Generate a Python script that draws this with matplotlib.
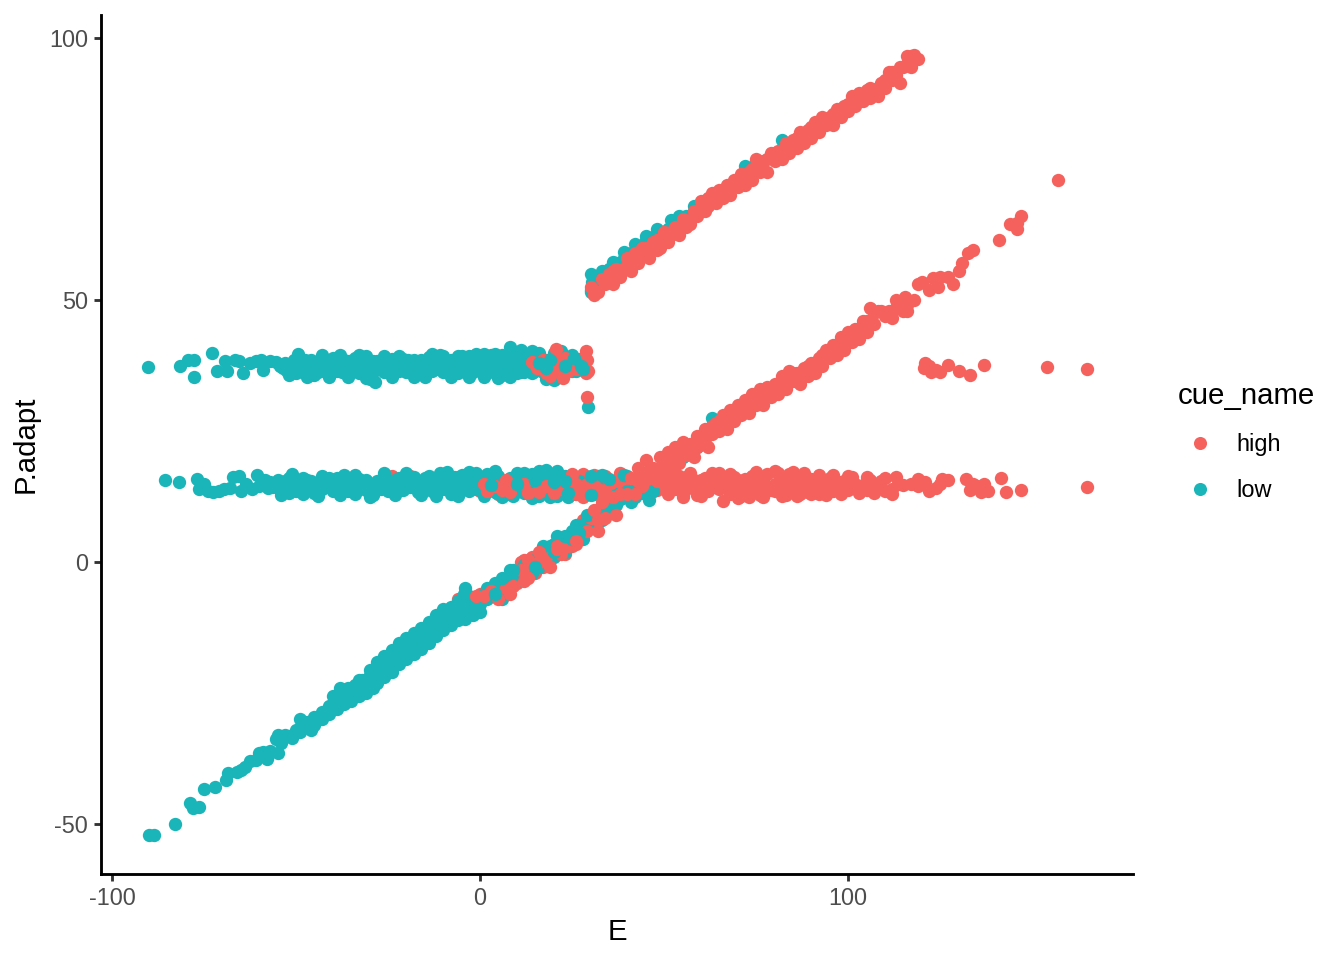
#!/bin/python3
import matplotlib
matplotlib.use("Agg")
import matplotlib.pyplot as plt
from matplotlib.lines import Line2D
import numpy as np

plt.rcParams['font.family'] = ['Liberation Sans', 'DejaVu Sans']
plt.rcParams['axes.unicode_minus'] = False

HIGH = "#F5615C"
LOW = "#19B5B8"

# (E, P.adapt), one list per band

# flat band around 37
high_top_back = [(6,37.5),(9,38),(12,37),(14,38.5),(17,36.5),(19,38),(-21,38),(-17,37.5),(3,36.5),(11,36.2)]
low_top = [(-90.2,37.2),(-81.5,37.4),(-79.3,38.5),(-77.7,38.5),(-77.7,35.3),(-72.8,40),(-71.5,36.4),(-68.8,36.5),
    (-69.3,38.4),(-66.6,38.5),(-65.5,38.3),(-64.4,36),(-62.5,38),(-61,38.4),(-59.5,38.5),(-59,36.7),(-57,38.4),
    (-55.5,38.2),(-54.5,37.5),(-53.5,37),(-52.5,36.5),(-51.5,37.8),(-50.5,38.5),(-50,36),(-49.5,39.7),(-48.5,37),
    (-47.5,38.6),(-47,36.2),(-46,37.4),(-45,35.7),(-44,38),(-43,36.8),(-42.5,38.3),(-41.5,36),(-40.5,37.5),(-40,39),
    (-39,36.5),(-38.5,38.8),(-37.5,37.4),(-36.5,36.2),(-36,38.2),(-35,37),(-34,39),(-33,36),(-32.5,38),(-31.5,36.8),
    (-31,39.4),(-30,35),(-29,38.4),(-28.5,34.3),(-28,37),(-26.5,38),(-26,36.3),(-25,37.3),(-24,38.8),(-23,36.5),
    (-22,37.5),(-21,38.7),(-20,36.2),(-19,37.5),(-18,38.5),(-17,36.5),(-16,38.6),(-15,37.2),(-14,39.2),(-13,36.4),
    (-12,38),(-11,39.5),(-10,37),(-9,36.3),(-8,38.5),(-7,37.3),(-6,36),(-5,38.2),(-4,37),(-3,39.4),(-2,36.3),(-1,38),
    (0,39.4),(1,37),(2,36),(3,38.7),(4,39.7),(5,37.3),(6,35.8),(7,38.5),(8,41),(9,37.5),(10,36),(11,39),(12,39.7),
    (13,37.4),(14,36),(15,38.8),(16,37.2),(17,36.3),(18,38.5),(20,40),(21,37.5),(22,35.3),(23,38.5),(24,37),(25,39.5),
    (26,36.5),(27,38.5),(28,37.5),(28.5,36.6),(29.3,29.6)]
low_top_more = [(-53,38),(-51,36.8),(-49,37.8),(-48,36.2),(-46,38.6),(-45,37),(-44,36.2),(-43,37.8),(-41.5,38.2),(-40,36.5),
    (-39,37.6),(-37.5,36.3),(-37,38.5),(-35.5,38.4),(-35,36.2),(-33.5,37.5),(-32.5,36.4),(-31,37.6),(-30,36.8),(-29,36.2),
    (-28,38.4),(-27,37.2),(-25.5,38.4),(-25,36.5),(-23.5,37.7),(-22,36.4),(-21,37.2),(-19.5,38.6),(-19,36.5),(-17.5,37.5),
    (-16.5,36.6),(-15.5,38),(-14.5,36.5),(-13,38),(-12,36.8),(-10.5,38.5),(-10,36.2),(-8.5,37.2),(-7.5,36.2),(-6,38.6),
    (-5,36.6),(-3.5,37.6),(-2.5,38.3),(-1,36.6),(0,37.3),(1,38.6),(2,37.6),(3,36.5),(4,38),(5,36.2),(6,37.7),(7,36.6),(8,38.8),
    (9,36.3),(10,38),(11,37),(12,36.3),(13,38.8),(14,37.5),(15,36.5),(16,38.5),(17,37.6),(18,36.5),(19,38),(21,36.5),(22,38),
    (24,38.5),(25,36.5),(26,38),(-6,39.3),(1,39.8),(6,39.5),(10,39.6)]
low_top_edge = [(-52,35.8),(-47,35.3),(-43,39.5),(-41,35.4),(-38,39.6),(-36,35.3),(-33,39.5),(-31,35.2),(-26,39.3),(-24,35.4),
    (-22,39.3),(-18,35.4),(-15,35.3),(-13,39.7),(-10,39.3),(-8,35.4),(-5,39.4),(-3,35.4),(-1,39.8),(1,35.3),(3,39.6),(5,35.1),(8,35.3),
    (11,40.5),(14,40.3),(16,40),(18,35),(20,34.8),(22,40.2)]
high_top_front = [(14,38.2),(15.5,37),(17,38.5),(18,36),(19,35.5),(20,37.7),(20.5,40.7),(22,36.5),(22.5,35.2),(23,39),
    (24,38),(25,37.5),(26,36.8),(27,38.8),(28,37),(28.8,40.3),(29,38.5),(29.3,36.4),(29,31.5),(28.8,36),(21,38.7),(24,36.4),(27,37)]
low_top_front = [(16,38),(19,38.5),(23,37.5),(25.5,39),(27.5,37.5),(18,37),(28,36.8)]

# flat band around 15
high_mid_back = [(-24,16.5),(-19,16.5),(-11,16),(-6,16.2),(-2,15),(0,13.5),(3,16),(5,13),(8,14.5),(11,16),(14,14),
    (16,15),(18,15.7),(20,14),(22,16.5),(24,13.5),(26,15.5),(28,16.8),(30,15),(32,16.5),(36,15)]
low_mid = [(-85.5,15.7),(-81.7,15.2),(-77,15.9),(-76.5,14),(-75,14.9),(-74,13.6),(-72.5,13.4),(-71,13.6),(-69.5,14),
    (-68,14.2),(-67,16.2),(-65.5,16.4),(-65,13.6),(-63.5,15),(-62,14),(-60.5,16.7),(-60,14.5),(-58.5,15.6),(-57.5,14.2),
    (-56.5,14.3),(-55.5,14.3),(-54,12.8),(-53,14.5),(-52,16),(-51,16.9),(-50,13.5),(-49,15),(-48,16),(-47,14),(-46,15.5),
    (-45,13.2),(-44,15),(-43,16.5),(-42,14.3),(-41,15.3),(-40,13.5),(-39,16),(-38,14.5),(-37,16.7),(-36,13.6),(-35,15.2),
    (-34,16.6),(-33,14),(-32,15.3),(-31,13.8),(-30,15),(-29,12.8),(-28,15.5),(-27,14),(-26,16),(-25,13.5),(-24,15),
    (-23,14),(-22,16),(-21,13.7),(-20,15.5),(-19,14.4),(-18,16.3),(-17,13.4),(-16,15),(-15,14),(-14,16.5),(-13,13.6),
    (-12,15.3),(-11,17),(-10,14),(-9,15.6),(-8,13),(-7,16.2),(-6,14.6),(-5,16.7),(-4,14),(-3,13.5),(-2,15.8),(-1,17),
    (0,15.5),(1,14),(2,16.8),(3,15),(4,13.4),(5,16.5),(6,14.7),(7,13),(8,16),(9,15),(10,17),(11,14),(12,13.2),(13,15.6),
    (14,16.8),(15,14.5),(16,12.7),(17,15.5),(18,17.5),(19,14),(20,16),(21,12.6),(22,15),(23,16.5),(24,14.2),(25,13),
    (27,15.5),(28,14),(31,13),(33,14.8),(35,13),(38,14.3),(40,16.5),(42,12.4),(44,16),(46,11.8),(48,15),(50,16.5),(41,11.5)]
low_mid_more = [(-57,15.3),(-55,15.6),(-53,15.4),(-51,14.7),(-49,13.7),(-47,15.6),(-45,14.7),(-43,14),(-41,16),(-39,14.4),(-37,15),
    (-35,14),(-33,15.8),(-31,15.6),(-29,14.5),(-27,15.6),(-25,15.2),(-23,15.6),(-21,15),(-19,16),(-17,15),(-15,16),(-13,15.2),
    (-11,14.5),(-9,14),(-7,14.6),(-5,15),(-3,15.4),(-1,14),(1,15.8),(3,13.8),(5,15),(7,15.5),(9,13.5),(11,15.6),(13,14),(15,16),
    (17,14),(19,15.5),(21,14.6),(23,14),(24,15.7),(26,13.6),(29,15)]
low_mid_edge = [(-52,13.2),(-48,13),(-44,12.6),(-38,12.8),(-34,13),(-30,12.4),(-26,17),(-23,12.8),(-20,17),(-16,12.8),(-12,12.6),(-9,17.2),
    (-6,12.7),(-3,17.2),(1,12.7),(4,17.3),(6,12.5),(9,12.7),(12,17),(14,12.2),(16,17.3),(19,12.5),(21,17.3),(24,12.4)]
high_mid_patch = [(1,15),(2,13.5),(6,13.7),(7,15.7),(13,13.2),(16,13.4),(18,14.5),(26,15),(25,16.8),(28,12.5)]
low_mid_front = [(3,14.8),(10,15),(15,15.6),(20,15.2),(23,15.5),(24,13.2),(30,16.5),(33,16.6),(37,12.8),(39,16.7),(42,15.3),(44,13.2),(30,12.8),
    (35,15.8),(38,12),(40,13.5),(46,16),(47,13.5)]
high_mid_front = [(4,14.5),(8,13.3),(22,14),(26,13),(29,15),(31,16.7),(32,14),(34,16.5),(35,14.5),(36,12.5),(37,15.5),(38,17),(39,14),
    (41,15.5),(42,14),(43,16.3),(44,13.5),(45,15),(46,16.8),(47,13.5),(48,15.5),(49,14.5),(50,16.7),(51,13),(52,15.5),
    (53,14),(54,15.5),(55,13),(56,16.3),(57,14.5),(58,15.7),(59,12.8),(60,14.5),(61,16),(62,13.5),(63,15.5),(64,16),
    (65,14),(66,11.6),(67,15.8),(68,13),(69,16.3),(70,14.5),(71,12.7),(72,15.8),(73,13.5),(74,16.5),(75,14.5),(76,12.8),
    (77,15.5),(78,16.8),(79,13.7),(80,15),(81,17),(82,14),(83,12.8),(84,15.5),(85,17.2),(86,14),(87,13),(88,15.3),(89,13.4),
    (90,15.8),(91,14),(92,13),(93,15.3),(94,14),(95,16),(96,13.5),(97,15.2),(98,14),(99,15.4),(100,13.7),(102,15),(104,14.7),
    (105,13.7),(106,15.6),(108,14.5),(110,13.5),(112,14),(113,16.2),(115,14.8),(117,15),(119,14.6),(121,15.2),(122,13.5),
    (124,14.2),(125,15),(125.5,15.8),(127,15.6),(113.5,15),(100,16.4),(109,15.5),(119,15.8),(136,13.4),(135,14.5),(137,15),(133,13.7),(134,15),(132,15.8),
    (141.5,16.1),(138,13.5),(143,13.4),(147,13.8),(165,14.4)]
high_mid_more = [(46,15),(48,13.8),(50,15),(52,14),(54,16.5),(56,14.2),(58,14),(60,15.7),(62,14.8),(64,14.4),(66,15),(68,14.6),
    (70,15.6),(72,14.2),(74,15),(76,16),(78,14.4),(80,13.5),(82,15.6),(84,14),(86,15.6),(88,14),(90,14.6),(92,15),(94,15.4),(96,14.6),
    (98,15.2),(44,15),(41,14),(39,16),(35,15.7),(33,13),(31,14.8),(27,13.4),(24,15),(20,13.2),(16,14),(12,15)]
high_mid_edge = [(53,17),(55,12.5),(57,17),(60,12.6),(63,17),(65,17),(68,16.9),(70,12.2),(73,12.4),(75,17.2),(77,12.4),(80,17.3),(82,12.7),(84,16.8),
    (86,12.7),(88,17),(90,13),(92,16.7),(94,12.9),(96,16.7),(98,13),(101,16.2),(103,13.2),(105,16.2),(107,13.2),(110,16),(112,13)]

# lower diagonal
low_diag = [(-90,-52),(-88.5,-52.1),(-83,-50),(-78.8,-46),(-78,-47),(-76.5,-46.8),(-75,-43.3),(-72,-42.9),(-69,-41.5),
    (-68.5,-40.2),(-66,-40),(-65,-39.6),(-64,-39),(-62.5,-38),(-61,-37.8),(-60,-36.5),(-59,-36.2),(-58,-37.5),(-55,-36.5),
    (-55.5,-33.8),(-55,-33),(-53,-33),(-52,-33.2),(-50,-32),(-49,-30),(-48,-31.5),(-47,-30.5),(-46,-32),(-45,-29.5),(-44,-30),
    (-43,-28.5),(-42,-29),(-41,-27.5),(-40,-28),(-39,-26),(-38,-27),(-38,-24),(-37,-25.5),(-36,-26),(-35,-25),(-34,-23.5),
    (-33,-24.5),(-32,-22.5),(-31,-23.5),(-30,-21.5),(-29,-22.5),(-28,-20.5),(-27,-21.5),(-26,-19.5),(-25,-20.5),(-24,-18),
    (-23,-19.5),(-22,-17),(-21,-18),(-20,-16),(-19,-17),(-18,-15),(-17,-16),(-16,-14),(-15,-15),(-14,-13),(-13,-14),
    (-12,-11.5),(-11,-12.5),(-10,-10.5),(-9,-12),(-8,-10),(-7,-11),(-6,-9),(-5,-10),(-4,-7.5),(-4,-9.5),(-3,-6.5),(-2,-8.5),
    (-1,-7),(0,-8),(1,-6),(2,-7),(3,-5),(4,-6.5),(5,-4),(6,-5),(7,-3.5),(8,-1.5),(9,-3),(10,-2),(12,-2.5),(13,-1),(15,0.5),
    (16,-1),(17,1.5),(18,0),(19,3),(20,1),(21,5),(22,3),(24,4),(25,6),(26,5),(27,7),(28,6),(29,8),(30,9),(31,7),(32,10),
    (34,10),(35,12),(37,11),(39,13),(40,14),(42,15),(45,17),(50,19),(55,20),(59,22),(63,27.5),(62,25),(60,23)]
low_diag_more = [(-57,-36),(-54,-34.5),(-51,-33.5),(-49,-32.5),(-47,-31.5),(-45,-31),(-43,-30),(-41,-29),(-39,-28),(-37,-27),(-35,-26.5),
    (-33,-25.5),(-31,-25),(-29,-24),(-28,-23),(-26,-22),(-24,-21),(-22,-19.5),(-20,-18.5),(-18,-17.5),(-16,-16.5),(-14,-15.5),
    (-12,-14),(-10,-13),(-8,-12),(-6,-11),(-4,-10.8),(-2,-10),(0,-9.5),(-24,-16.8),(-22,-15.5),(-20,-14.5),(-18,-13.5),(-16,-12.5),
    (-14,-11.5),(-12,-10),(-10,-9),(-8,-8.5),(-6,-7.5),(-4.5,-6),(-3,-7),(-40,-25.5),(-36,-24),(-33,-22.5),(-30,-20.5),(-28,-19),
    (-26,-18),(2,-5),(4,-4),(6,-7),(8,-4.5),(10,-3.5),(12,-0.5),(14,-2),(16,1),(18,2.5),(20,3.5),(23,2),(26,7),(28,4.5),(31,9.5),(33,8)]
high_diag = [(-38,-26),(-30,-22),(-14,-14),(-10,-11.5),(-6,-7),(-3,-8),(0,-6),(2,-5.5),(4,-4.5),(6,-6),(8,-3),(10,-4),(11,0),
    (12,0.5),(14,1),(15,-2),(17,-1),(19,1),(20,3),(22,4),(23,1.5),(24,5),(25,3),(27,5),(28,8),(30,7)]
high_diag_patch = [(1,-6.5),(3,-5.5),(5,-7),(7,-5),(9,-4.5),(11,-1.5),(12,-3.5),(13,0.5),(14,-1),(16,0),(18,1),(19,-1),(21,3),(22,1.5),(24,3),(26,3.5),
    (29,6),(30,8.5),(32,6)]
low_diag_front = [(-4,-5),(4,-6),(6,-3),(9,-1.5),(15,-1),(17,3),(20,2),(23,5),(25,4.5),(27,5.5),(29,9),(33,10),(35,9.5),(38,12),(41,13.5),(44,14)]
high_diag_front = [(8,-6),(-1,-6.5),(13,-3),(16,2),(21,2.5),(26,4),(31,10),(32,8),(33,11.5),
    (34,8.5),(36,12.5),(37,9),(38,13),(40,13),(41,16),(42,13),(43,18),(44,14.5),(45,19.5),(46,16),(47,18),(48,15.5),(49,20),
    (50,17.5),(51,21),(52,18),(53,22),(54,19),(55,23),(56,20.5),(57,22.5),(58,20),(59,24),(60,23),(61,25.5),(62,22),(63,24.5),
    (64,26.5),(65,25),(66,28),(67,25.5),(68,29),(69,27),(70,30),(71,28),(72,31),(73,28.5),(74,32),(75,30),(76,33),(77,30),(78,33.5),
    (79,31.5),(80,34),(81,32),(82,35.5),(83,33),(84,36.5),(85,34.5),(86,36),(87,34),(88,37),(89,35.5),(90,38),(91,36),(92,39),
    (93,37.5),(94,40.5),(95,39),(96,41.5),(97,39.5),(98,43),(99,40.5),(100,44),(101,42),(102,44.5),(103,42.5),(104,46),(105,44),
    (106,48.5),(107,45.5),(108,48),(110,47),(112,46.5),(113,50),(115,48),(115.5,50.5),(116,49),(118,50),(119,53),(120,53.5),
    (122,52),(123,54.2),(125,54.5),(124.5,52.5),(127,54.5),(128.5,53),(130,55.5),(131,57),(132.5,59),(134,59.5),(141,61.5),
    (144,64.5),(146,63.5),(146,64.8),(147,66),(157,73)]
high_diag_more = [(43,15.5),(45,17),(47,16.5),(49,18),(51,19),(53,20),(55,21),(57,21),(59,22),(61,23.5),(63,26),(65,27),(67,27.5),(69,28.5),
    (71,30),(73,30.5),(75,31.5),(77,32),(79,33),(81,34),(83,34.8),(85,36),(87,36),(89,37.5),(91,38),(93,39.5),(95,40.5),(97,41.5),(99,42.5),
    (101,43.5),(103,44.5),(105,46),(107,47.5),(109,48),(111,48),(113,48.5),(116,48),(72,29.5),(76,31.5),(80,32.5),(84,35),(88,35.5),(92,37.5),(96,40),(100,42)]

# upper diagonal
low_upper = [(30,55),(30,52),(30,51.5),(31,53),(32,54.5),(33,55.5),(34,55),(35,56),(36,54.5),(37,57),(38,56),(39,58),(40,56.5),
    (41,59),(42,57.5),(43,60),(44,59),(45,61.5),(46,60),(47,62),(48,61),(49,62.5),(50,61.5),(51,63.5),(52,64),(54,65),(56,66),
    (58,67),(60,68.5),(64,70),(68,72),(72,75.5),(75,76.5),(82,80.5)]
high_upper = [(30,52.5),(31,51),(32,51.5),(33,54),(34,53),(35,55),(36,53),(37,56),(38,54.5),(39,56),(40,58),(41,55.5),(42,59),(43,57),
    (44,58.5),(45,60),(46,58),(47,61),(48,59.5),(49,60),(50,63),(51,61),(52,62.5),(53,64),(54,62.5),(55,65.5),(56,64),(57,64.5),(58,67),
    (59,66),(60,69),(61,67),(62,68),(63,70.5),(64,68.5),(65,71),(66,69.5),(67,72),(68,70),(69,73),(70,71.5),(71,74),(72,72),(73,74.5),
    (74,73),(75,77),(76,74.5),(77,76.5),(78,74.5),(79,78),(80,76.5),(81,78.5),(82,77),(83,80),(84,78),(85,80.5),(86,79),(87,82),
    (88,80),(89,82.5),(90,81),(91,84),(92,82),(93,85),(94,83.5),(95,85),(96,83.5),(97,86.5),(98,85),(99,87),(100,86),(101,89),(102,87),
    (103,89.5),(104,88),(105,90),(106,88.5),(107,90),(108,89),(109,91.5),(110,90.5),(111,93.5),(112,92),(113,93),(114,91.5),(115,94.5),
    (116,95),(117,96.5),(118,96.8),(119,96),(117,94.5)]
high_upper_more = [(58,66),(60,67),(62,69.5),(64,69.5),(66,71),(68,71.5),(70,73),(72,73.5),(74,75),(76,76),(78,77),(80,78),(82,78.5),(84,79.5),
    (86,81),(88,81.5),(90,83),(92,83.5),(94,84.5),(96,85.5),(98,86),(100,87.5),(102,88.5),(104,89),(106,90.5),(108,90.5),(110,92),(112,93.5),
    (114,94.5),(116,96.5),(36,55.5),(40,56.5),(44,60),(48,61.5),(52,63),(56,65),(54,64)]
low_upper_front = [(31,51.5),(30.5,53.5),(36,57.2),(39,59.2),(42,60.7),(45,62.3),(48,63.5),(52,65.2),(54,66),(58,68)]

# lone group at the right of the lower diagonal
high_right = [(120.5,37),(121,38),(122,37.5),(122.5,36.3),(124,36.6),(125,36.2),(127,37.7),(130,36.5),(133,35.8),(137,37.6),(154,37.2),(165,36.9)]

# back to front
layers = [(high_top_back, HIGH), (high_mid_back, HIGH), (low_upper, LOW), (low_upper_front, LOW), (high_upper, HIGH), (high_upper_more, HIGH),
          (high_diag, HIGH), (low_diag, LOW), (low_diag_more, LOW), (low_top, LOW), (low_top_more, LOW), (low_top_edge, LOW), (low_mid, LOW),
          (low_mid_more, LOW), (low_mid_edge, LOW), (high_mid_patch, HIGH), (high_diag_patch, HIGH), (high_top_front, HIGH), (low_top_front, LOW),
          (high_mid_more, HIGH), (high_mid_front, HIGH), (high_mid_edge, HIGH), (low_mid_front, LOW), (low_diag_front, LOW),
          (high_diag_front, HIGH), (high_diag_more, HIGH), (high_right, HIGH)]

fig = plt.figure(figsize=(7, 5), dpi=192)
ax = fig.add_axes([101/1344, 1 - 874/960, (1133-101)/1344, (874-15)/960])

for points, color in layers:
    pts = np.array(points)
    ax.scatter(pts[:, 0], pts[:, 1], s=25, color=color, linewidths=0)

ax.set_xlim(-103, 177.4)
ax.set_ylim(-59.5, 104.4)
ax.set_xticks([-100, 0, 100])
ax.set_yticks([-50, 0, 50, 100])
ax.spines['top'].set_visible(False)
ax.spines['right'].set_visible(False)
ax.spines['left'].set_linewidth(1.07)
ax.spines['bottom'].set_linewidth(1.07)
ax.tick_params(length=2.75, width=1.07, color="#333333", labelcolor="#4D4D4D", labelsize=8.8, pad=2.2)
ax.set_xlabel("E", fontsize=11, labelpad=3)
ax.set_ylabel("P.adapt", fontsize=11, labelpad=3)
ax.yaxis.set_label_coords(-0.059, 0.5)

handles = [Line2D([], [], linestyle='none', marker='o', markersize=4.9, markeredgewidth=0, color=HIGH, label='high'),
           Line2D([], [], linestyle='none', marker='o', markersize=4.9, markeredgewidth=0, color=LOW, label='low')]
fig.legend(handles=handles, title='cue_name', loc='upper left', bbox_to_anchor=(1178/1344, 1 - 382/960),
           frameon=False, fontsize=8.8, title_fontsize=11, alignment='left', borderpad=0, borderaxespad=0,
           labelspacing=0.98, handlelength=1.85, handletextpad=0.65)

fig.savefig("out.png", dpi=192)
